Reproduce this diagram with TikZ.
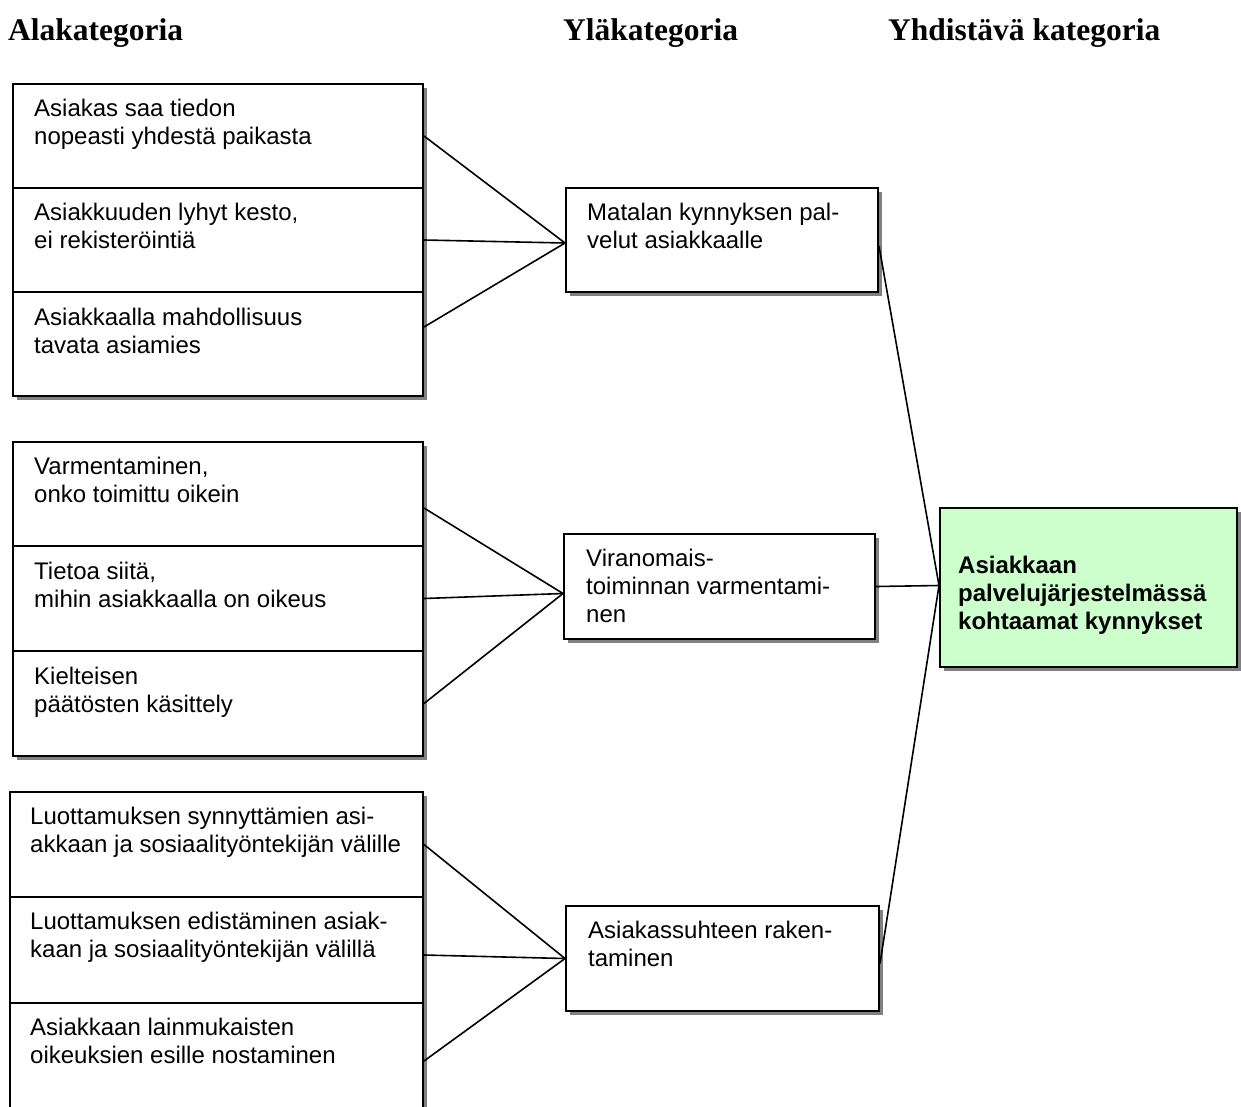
\documentclass[tikz,border=0pt]{standalone}
\usepackage{fontspec}
\setmainfont{Liberation Sans}
\newfontfamily\headfont{Liberation Serif}
\usetikzlibrary{calc}
\definecolor{shadowgray}{HTML}{808080}
\definecolor{resultgreen}{HTML}{CCFFCC}
\begin{document}
\begin{tikzpicture}[x=1pt,y=-1pt,
  cellbox/.style={draw, line width=2pt, anchor=north west, inner sep=0pt},
  subcell/.style={cellbox, minimum width=410pt, minimum height=104pt},
  subcellw/.style={cellbox, minimum width=413pt, minimum height=105pt},
  upcell/.style={cellbox, fill=white, minimum height=105pt},
  txt/.style={anchor=north west, inner sep=0pt, align=left,
    font=\fontsize{24}{28}\selectfont},
  boldtxt/.style={txt, font=\fontsize{24}{28}\selectfont\bfseries},
  head/.style={anchor=base west, inner sep=0pt,
    font=\headfont\fontsize{31.5}{36}\selectfont\bfseries},
  link/.style={line width=1.6pt},
  shade/.style={fill=shadowgray}]
\useasboundingbox (0,0) rectangle (1241,1106);

% column headings
\node[head] (h1) at (8,40) {Alakategoria};
\node[head] (h2) at (563,40) {Yläkategoria};
\node[head] (h3) at (888,40) {Yhdistävä kategoria};

% ---- subcategory group 1
\fill[shade] (17,88) rectangle (427,400);
\node[subcell, fill=white, minimum height=312pt] (g1) at (12,83) {};
\node[subcell] (g1a) at (12,83) {};
\node[subcell] (g1b) at (12,187) {};
\node[subcell] (g1c) at (12,291) {};
\node[txt] (t1a) at (34,99) {Asiakas saa tiedon\\nopeasti yhdestä paikasta};
\node[txt] (t1b) at (34,203) {Asiakkuuden lyhyt kesto,\\ei rekisteröintiä};
\node[txt] (t1c) at (34,308) {Asiakkaalla mahdollisuus\\tavata asiamies};

% ---- subcategory group 2
\fill[shade] (17,446) rectangle (427,760);
\node[subcell, fill=white, minimum height=314pt] (g2) at (12,441) {};
\node[subcell] (g2a) at (12,441) {};
\node[subcell, minimum height=105pt] (g2b) at (12,545) {};
\node[subcell, minimum height=105pt] (g2c) at (12,650) {};
\node[txt] (t2a) at (34,457) {Varmentaminen,\\onko toimittu oikein};
\node[txt] (t2b) at (34,562) {Tietoa siitä,\\mihin asiakkaalla on oikeus};
\node[txt] (t2c) at (34,667) {Kielteisen\\päätösten käsittely};

% ---- subcategory group 3
\fill[shade] (14,796) rectangle (427,1120);
\node[subcellw, fill=white, minimum height=319pt] (g3) at (9,791) {};
\node[subcellw] (g3a) at (9,791) {};
\node[subcellw, minimum height=106pt] (g3b) at (9,896) {};
\node[subcellw, minimum height=108pt] (g3c) at (9,1002) {};
\node[txt] (t3a) at (30,807) {Luottamuksen synnyttämien asi-\\akkaan ja sosiaalityöntekijän välille};
\node[txt] (t3b) at (30,912) {Luottamuksen edistäminen asiak-\\kaan ja sosiaalityöntekijän välillä};
\node[txt] (t3c) at (30,1018) {Asiakkaan lainmukaisten\\oikeuksien esille nostaminen};

% ---- upper categories
\fill[shade] (570,192) rectangle (882,296);
\node[upcell, minimum width=312pt, minimum height=104pt] (m1) at (565,187) {};
\node[txt] (tm1) at (587,203) {Matalan kynnyksen pal-\\velut asiakkaalle};

\fill[shade] (568,538) rectangle (879,643);
\node[upcell, minimum width=311pt] (m2) at (563,533) {};
\node[txt] (tm2) at (586,549) {Viranomais-\\toiminnan varmentami-\\nen};

\fill[shade] (570,910) rectangle (883,1015);
\node[upcell, minimum width=313pt] (m3) at (565,905) {};
\node[txt] (tm3) at (588,921) {Asiakassuhteen raken-\\taminen};

% ---- combining category
\fill[shade] (944,512) rectangle (1241,671);
\node[cellbox, fill=resultgreen, minimum width=297pt, minimum height=159pt] (gr) at (939,507) {};
\node[boldtxt] (tgr) at (958,556) {Asiakkaan\\palvelujärjestelmässä\\kohtaamat kynnykset};

% ---- junction points
\coordinate (j1) at ($(m1.west)+(0,3)$);
\coordinate (j2) at ($(m2.west)+(0,7)$);
\coordinate (j3) at ($(m3.west)+(0,0)$);
\coordinate (jg) at ($(gr.west)+(0,-2)$);

% ---- connectors
\draw[link] (g1a.east) -- (j1);
\draw[link] (g1b.east) -- (j1);
\draw[link] ($(g1c.east)+(0,-17)$) -- (j1);

\draw[link] ($(g2a.east)+(0,14)$) -- (j2);
\draw[link] (g2b.east) -- (j2);
\draw[link] (g2c.east) -- (j2);

\draw[link] (g3a.east) -- (j3);
\draw[link] ($(g3b.east)+(0,5)$) -- (j3);
\draw[link] ($(g3c.east)+(0,4)$) -- (j3);

\draw[link] ($(m1.east)+(0,6)$) -- (jg);
\draw[link] (m2.east) -- (jg);
\draw[link] ($(m3.east)+(0,5)$) -- (jg);
\end{tikzpicture}
\end{document}
